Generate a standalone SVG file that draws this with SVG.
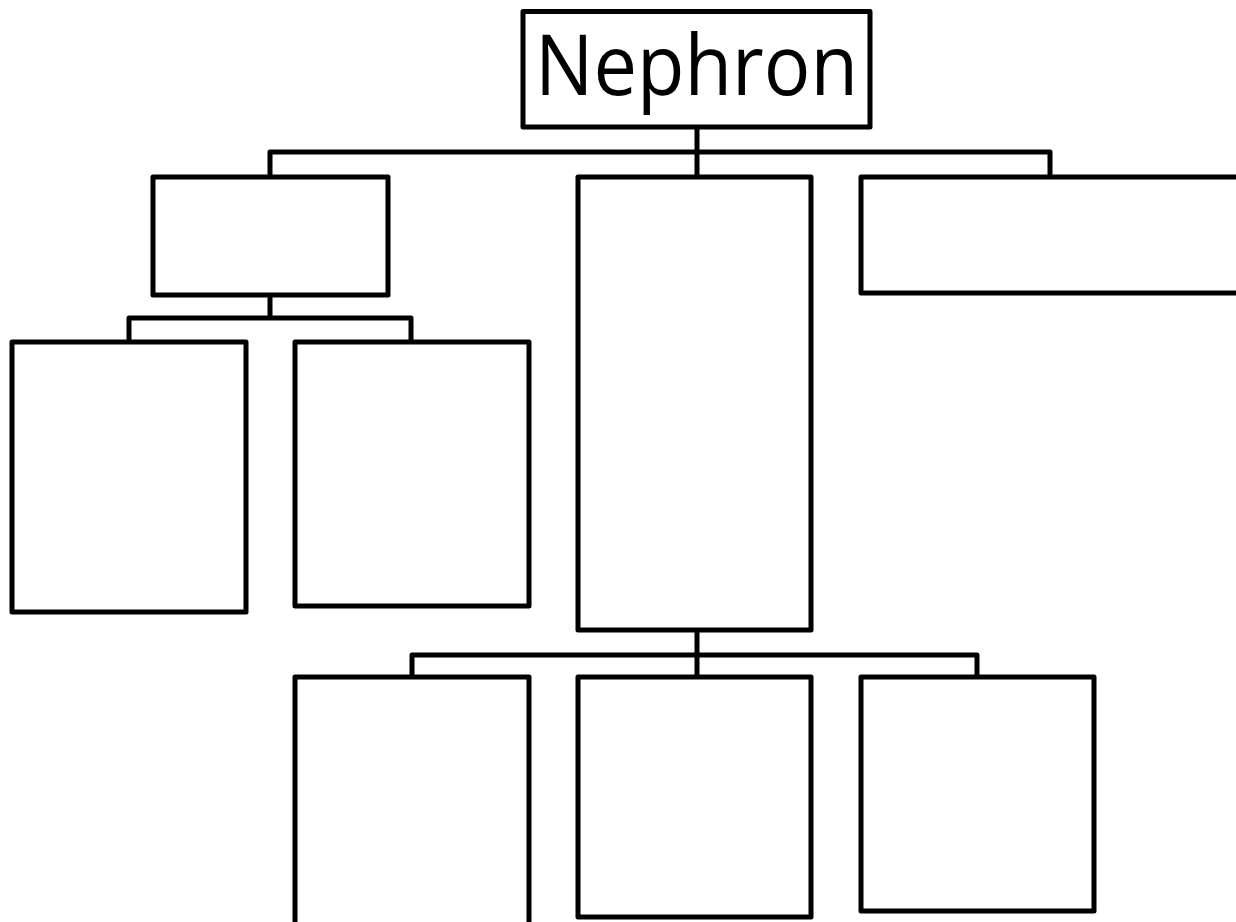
<svg xmlns="http://www.w3.org/2000/svg" width="1236" height="922" viewBox="0 0 1236 922">
<style>
.b{fill:#fff;stroke:#000;stroke-width:5;stroke-linejoin:round}
.c{fill:none;stroke:#000;stroke-width:5;stroke-linejoin:round}
.t{font-family:"Open Sans","Liberation Sans",sans-serif;font-size:84px;fill:#000}
</style>
<rect width="1236" height="922" fill="#fff"/>
<g id="connectors">
<path class="c" d="M697 127V177M270 177V152H1050V177"/>
<path class="c" d="M270 295V318M129 342V318H411V342"/>
<path class="c" d="M697 630V677M412 677V655H977V677"/>
</g>
<g id="nephron"><rect class="b" x="523" y="11.5" width="347" height="115.5"/><text class="t" x="535" y="95" textLength="323" lengthAdjust="spacingAndGlyphs">Nephron</text></g>
<g id="box1"><rect class="b" x="153" y="177" width="235" height="118"/></g>
<g id="box2"><rect class="b" x="578" y="177" width="233" height="453"/></g>
<g id="box3"><rect class="b" x="861" y="177" width="400" height="116"/></g>
<g id="box4"><rect class="b" x="12" y="342" width="234" height="270"/></g>
<g id="box5"><rect class="b" x="295" y="342" width="234" height="264"/></g>
<g id="box6"><rect class="b" x="295" y="677" width="234" height="260"/></g>
<g id="box7"><rect class="b" x="578" y="677" width="233" height="240"/></g>
<g id="box8"><rect class="b" x="861" y="677" width="233" height="234"/></g>
</svg>
